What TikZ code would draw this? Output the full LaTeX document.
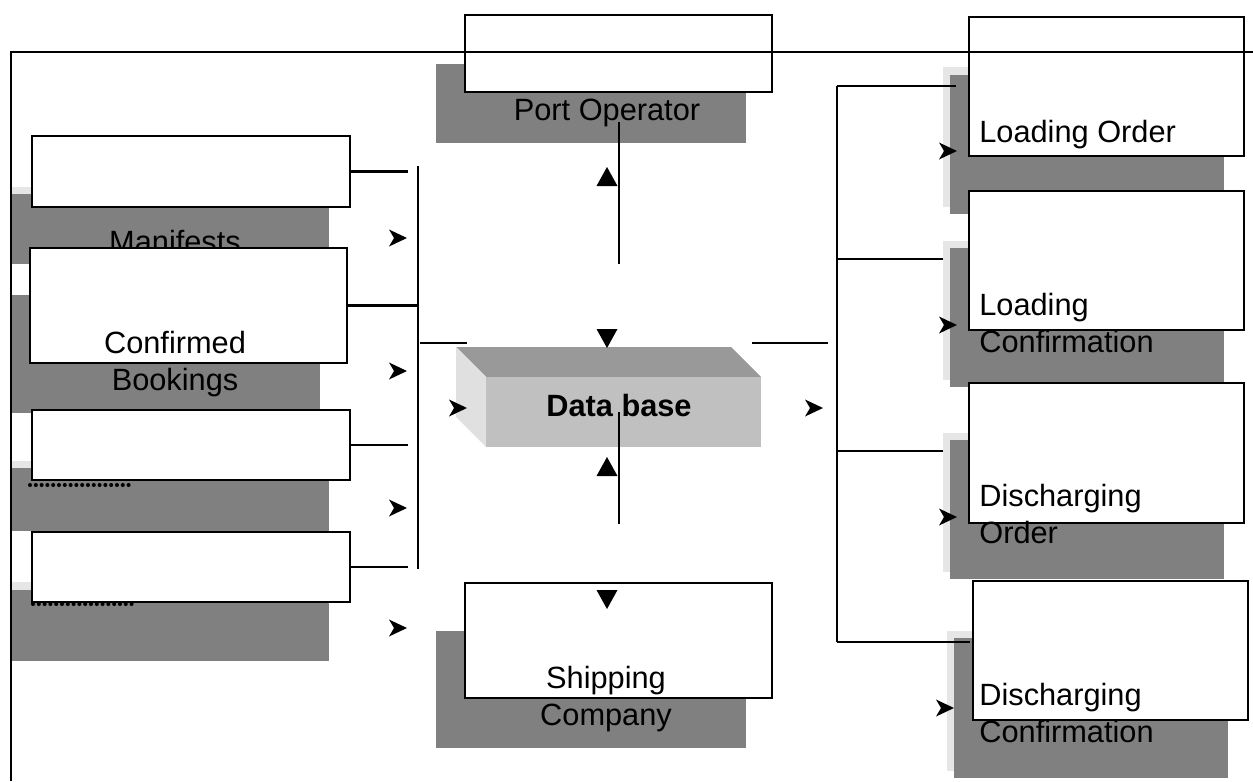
\documentclass[tikz,border=0pt]{standalone}
\usepackage{fontspec}
\setmainfont{Liberation Sans}
\usetikzlibrary{fit}
\definecolor{boxgrey}{HTML}{808080}
\definecolor{haloGrey}{HTML}{E6E6E6}
\definecolor{dbtop}{HTML}{999999}
\definecolor{dbfront}{HTML}{C0C0C0}
\definecolor{dbside}{HTML}{E0E0E0}
% two-line labels: first baseline is the reference point
\newcommand\pairC[2]{\vtop{\baselineskip=21.5pt\halign{\hfil##\hfil\cr#1\cr#2\cr}}}
\newcommand\pairL[2]{\vtop{\baselineskip=21.5pt\halign{##\hfil\cr#1\cr#2\cr}}}
\tikzset{
  wbox/.style={draw=black, line width=1.05pt, fill=white, inner sep=0pt},
  lbl/.style={font=\fontsize{17.5}{21.5}\selectfont, inner sep=0pt},
  conn/.style={line width=1.6pt},
  frameline/.style={line width=1.5pt},
  dots/.style={line width=2.3pt, dash pattern=on 0pt off 3.3pt, line cap=round},
  backgrey/.style={fill=boxgrey},
  backhalo/.style={fill=haloGrey},
  rhead/.pic={\fill (0,0) -- (-18,-8.5) -- (-13,0) -- (-18,8.5) -- cycle;},
  uphead/.pic={\fill (0,0) -- (10.5,19) -- (-10.5,19) -- cycle;},
  dnhead/.pic={\fill (0,0) -- (10.5,-19) -- (-10.5,-19) -- cycle;},
}
\begin{document}
\begin{tikzpicture}[x=0.02cm, y=-0.02cm]
\useasboundingbox (0,0) rectangle (1253,781);

% ---------- left column ----------
\fill[backhalo] (12,187) rectangle (322,257);
\fill[backgrey] (12,194) rectangle (329,264);
\node[wbox, fit={(32,136)(350,207)}] (manW) {};
\node[lbl, anchor=base] (manT) at (175,252) {Manifests};

\fill[backgrey] (12,295) rectangle (320,413);
\node[wbox, fit={(30,248)(347,363)}] (cbW) {};
\node[lbl, anchor=base] (cbT) at (175,353) {\pairC{Confirmed}{Bookings}};

\fill[backhalo] (12,461) rectangle (322,524);
\fill[backgrey] (12,468) rectangle (329,531);
\node[wbox, fit={(32,410)(350,480)}] (thW) {};
\draw[dots] (30,485) -- (130,485);

\fill[backhalo] (12,582) rectangle (322,654);
\fill[backgrey] (12,590) rectangle (329,661);
\node[wbox, fit={(32,532)(350,602)}] (foW) {};
\draw[dots] (33,604) -- (133,604);

% ---------- port operator ----------
\fill[backgrey] (436,64) rectangle (746,143);
\node[wbox, fit={(465,15)(772,92)}] (poW) {};
\node[lbl, anchor=base] (poT) at (607,120) {Port Operator};

% ---------- data base block ----------
\fill[fill=dbtop]  (456,347) -- (731,347) -- (761,377) -- (486,377) -- cycle;
\fill[fill=dbside] (456,347) -- (486,377) -- (486,447) -- (456,417) -- cycle;
\node[fill=dbfront, inner sep=0pt, fit={(486,377)(761,447)}] (db) {};
\node[lbl, font=\fontsize{17.5}{21.5}\selectfont\bfseries, anchor=base] (dbT) at (619,416) {Data base};

% ---------- shipping company ----------
\fill[backgrey] (436,631) rectangle (746,748);
\node[wbox, fit={(465,583)(772,698)}] (scW) {};
\node[lbl, anchor=base] (scT) at (606,688) {\pairC{Shipping}{Company}};

% ---------- right column ----------
\fill[backhalo] (943,67) rectangle (1217,207);
\fill[backgrey] (950,75) rectangle (1224,214);
\node[wbox, fit={(969,17)(1244,156)}] (loW) {};
\node[lbl, anchor=base west] (loT) at (979,142) {Loading Order};

\fill[backhalo] (943,241) rectangle (1217,380);
\fill[backgrey] (950,248) rectangle (1224,387);
\node[wbox, fit={(969,191)(1244,330)}] (lcW) {};
\node[lbl, anchor=base west] (lcT) at (979,315) {\pairL{Loading}{Confirmation}};

\fill[backhalo] (943,433) rectangle (1217,572);
\fill[backgrey] (950,440) rectangle (1224,579);
\node[wbox, fit={(969,383)(1244,523)}] (doW) {};
\node[lbl, anchor=base west] (doT) at (979,506) {\pairL{Discharging}{Order}};

\fill[backhalo] (947,631) rectangle (1221,771);
\fill[backgrey] (954,638) rectangle (1228,778);
\node[wbox, fit={(973,581)(1248,720)}] (dcW) {};
\node[lbl, anchor=base west] (dcT) at (979,705) {\pairL{Discharging}{Confirmation}};

% ---------- connectors ----------
\coordinate (lbusT) at (418,166);
\coordinate (lbusB) at (418,569);
\coordinate (dbL) at (467,343);
\draw[conn] (lbusT) -- (lbusB);
\draw[conn] (manW.east) -- ++(57,0);
\draw[conn] (cbW.east) -- (cbW.east -| lbusT);
\draw[conn] (thW.east) -- ++(57,0);
\draw[conn] (foW.east) -- ++(57,0);
\draw[conn] (dbL -| lbusT) ++(2,0) -- (dbL);

\coordinate (upT) at (619,122);
\coordinate (upB) at (619,264);
\coordinate (loT2) at (619,412);
\coordinate (loB) at (619,524);
\draw[conn] (upT) -- (upB);
\draw[conn] (loT2) -- (loB);

\coordinate (dbR) at (752,343);
\coordinate (rbusT) at (837,86);
\coordinate (rbusB) at (837,642);
\draw[conn] (dbR) -- (828,343);
\draw[conn] (rbusT) -- (956,86);
\draw[conn] (rbusT) -- (rbusB);
\draw[conn] (837,259) -- (943,259);
\draw[conn] (837,451) -- (943,451);
\draw[conn] (rbusB) -- (970,642);

% ---------- arrowheads ----------
\pic at (407,238) {rhead};
\pic at (407,371) {rhead};
\pic at (407,508) {rhead};
\pic at (407,628) {rhead};
\pic at (467,408) {rhead};
\pic at (823,408) {rhead};
\pic at (957,151) {rhead};
\pic at (957,325) {rhead};
\pic at (957,517) {rhead};
\pic at (954,708) {rhead};
\pic at (607,167) {uphead};
\pic at (607,457) {uphead};
\pic at (607,348) {dnhead};
\pic at (607,609) {dnhead};

% ---------- outer frame ----------
\draw[frameline] (11,781) -- (11,52) -- (1253,52);
\end{tikzpicture}
\end{document}
